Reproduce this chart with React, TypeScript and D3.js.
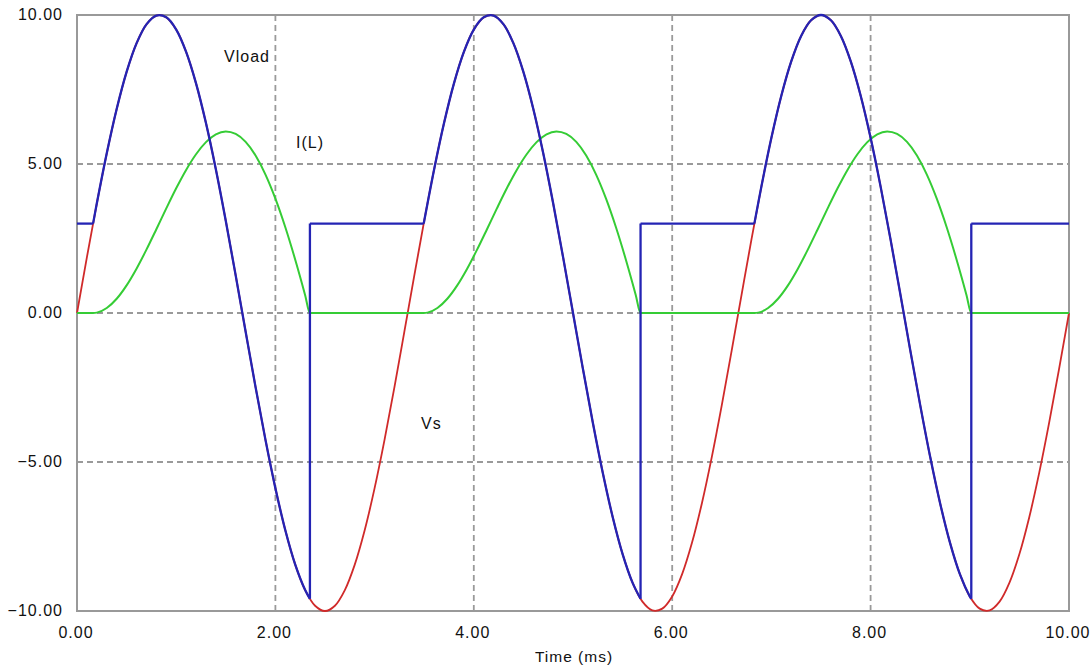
import React from "react";
import * as d3 from "d3";

// sampling grid for the source voltage (ms)
const timeMs: number[] = d3.range(101).map((i) => i / 10);

// Vs (V), read every 0.1 ms
const vsValues: number[] = [
  0, 1.874, 3.681, 5.358, 6.845, 8.09, 9.048, 9.686, 9.98, 9.921, 9.511, 8.763, 7.705, 6.374, 4.818, 3.09, 1.253,
  -0.628, -2.487, -4.258, -5.878, -7.29, -8.443, -9.298, -9.823, -10.0, -9.823, -9.298, -8.443, -7.29, -5.878,
  -4.258, -2.487, -0.628, 1.253, 3.09, 4.818, 6.374, 7.705, 8.763, 9.511, 9.921, 9.98, 9.686, 9.048, 8.09, 6.845,
  5.358, 3.681, 1.874, 0,
  -1.874, -3.681, -5.358, -6.845, -8.09, -9.048, -9.686, -9.98, -9.921, -9.511, -8.763, -7.705, -6.374, -4.818,
  -3.09, -1.253, 0.628, 2.487, 4.258, 5.878, 7.29, 8.443, 9.298, 9.823, 10.0, 9.823, 9.298, 8.443, 7.29, 5.878,
  4.258, 2.487, 0.628, -1.253, -3.09, -4.818, -6.374, -7.705, -8.763, -9.511, -9.921, -9.98, -9.686, -9.048,
  -8.09, -6.845, -5.358, -3.681, -1.874, 0,
];

// Vload: battery level and conduction intervals (ms) with Vs at turn-off
const batteryV = 3;
const conductOn: number[] = [0.162, 3.495, 6.828];
const conductOff: number[] = [2.348, 5.681, 9.015];
const vAtOff: number[] = [-9.59, -9.59, -9.59];

// I(L) pulses: [time ms, current]
const iL1: [number, number][] = [
  [0.162, 0], [0.2, 0.013], [0.3, 0.167], [0.4, 0.478], [0.5, 0.927], [0.6, 1.487], [0.7, 2.126], [0.8, 2.812],
  [0.9, 3.51], [1.0, 4.185], [1.1, 4.801], [1.2, 5.327], [1.3, 5.733], [1.4, 5.994], [1.5, 6.091], [1.6, 6.008],
  [1.7, 5.74], [1.8, 5.284], [1.9, 4.645], [2.0, 3.837], [2.1, 2.877], [2.2, 1.788], [2.3, 0.598], [2.348, 0],
];
const iL2: [number, number][] = [
  [3.495, 0], [3.533, 0.013], [3.633, 0.167], [3.733, 0.478], [3.833, 0.927], [3.933, 1.487], [4.033, 2.126],
  [4.133, 2.812], [4.233, 3.51], [4.333, 4.185], [4.433, 4.801], [4.533, 5.327], [4.633, 5.733], [4.733, 5.994],
  [4.833, 6.091], [4.933, 6.008], [5.033, 5.74], [5.133, 5.284], [5.233, 4.645], [5.333, 3.837], [5.433, 2.877],
  [5.533, 1.788], [5.633, 0.598], [5.681, 0],
];
const iL3: [number, number][] = [
  [6.828, 0], [6.867, 0.013], [6.967, 0.167], [7.067, 0.478], [7.167, 0.927], [7.267, 1.487], [7.367, 2.126],
  [7.467, 2.812], [7.567, 3.51], [7.667, 4.185], [7.767, 4.801], [7.867, 5.327], [7.967, 5.733], [8.067, 5.994],
  [8.167, 6.091], [8.267, 6.008], [8.367, 5.74], [8.467, 5.284], [8.567, 4.645], [8.667, 3.837], [8.767, 2.877],
  [8.867, 1.788], [8.967, 0.598], [9.015, 0],
];

const xTicks: number[] = [0, 2, 4, 6, 8, 10];
const yTicks: number[] = [-10, -5, 0, 5, 10];
const xGrid: number[] = [2, 4, 6, 8];
const yGrid: number[] = [-5, 0, 5];

const W = 1092;
const H = 667;
const FONT = "'Liberation Sans', Arial, sans-serif";

export default function App() {
  const x = d3.scaleLinear().domain([0, 10]).range([77, 1069]);
  const y = d3.scaleLinear().domain([-10, 10]).range([611, 15]);
  const fmt = d3.format(".2f");

  const smooth = d3
    .line<[number, number]>()
    .x((d) => x(d[0]))
    .y((d) => y(d[1]))
    .curve(d3.curveCatmullRom.alpha(0.5));
  const lin = d3
    .line<[number, number]>()
    .x((d) => x(d[0]))
    .y((d) => y(d[1]));
  const mono = d3
    .line<[number, number]>()
    .x((d) => x(d[0]))
    .y((d) => y(d[1]))
    .curve(d3.curveMonotoneX);

  const vsPts: [number, number][] = timeMs.map((t, i) => [t, vsValues[i]]);

  // Vload segments
  const blueSegs: { d: string }[] = [];
  let prev = 0;
  conductOn.forEach((on, k) => {
    const off = conductOff[k];
    blueSegs.push({ d: lin([[prev, batteryV], [on, batteryV]]) as string });
    const pts: [number, number][] = [[on, batteryV]];
    vsPts.forEach((p) => {
      if (p[0] > on + 0.001 && p[0] < off - 0.001) pts.push(p);
    });
    pts.push([off, vAtOff[k]]);
    blueSegs.push({ d: smooth(pts) as string });
    blueSegs.push({ d: lin([[off, vAtOff[k]], [off, batteryV]]) as string });
    prev = off;
  });
  blueSegs.push({ d: lin([[prev, batteryV], [10, batteryV]]) as string });

  const greenPts: [number, number][] = [[0, 0], ...iL1, ...iL2, ...iL3, [10, 0]];

  const gridStyle = { stroke: "#9a9a9a", strokeWidth: 1.8, strokeDasharray: "6,4", fill: "none" };
  const textStyle: React.CSSProperties = { fontFamily: FONT, fontSize: 16, letterSpacing: 1, fill: "#111" };

  return (
    <svg
      width={W}
      height={H}
      style={{ position: "absolute", left: 0, top: 0, background: "#fff" }}
      xmlns="http://www.w3.org/2000/svg"
    >
      <rect x={0} y={0} width={W} height={H} fill="#fff" />
      {xGrid.map((t) => (
        <line key={"gx" + t} x1={x(t)} x2={x(t)} y1={y(10)} y2={y(-10)} style={gridStyle} />
      ))}
      {yGrid.map((v) => (
        <line key={"gy" + v} x1={x(0)} x2={x(10)} y1={y(v)} y2={y(v)} style={gridStyle} />
      ))}
      <rect x={x(0)} y={y(10)} width={x(10) - x(0)} height={y(-10) - y(10)} fill="none" stroke="#999" strokeWidth={2} />

      <path d={smooth(vsPts) as string} fill="none" stroke="#d02a2a" strokeWidth={1.8} />
      <path d={mono(greenPts) as string} fill="none" stroke="#35cc35" strokeWidth={2} />
      {blueSegs.map((s, i) => (
        <path key={"b" + i} d={s.d} fill="none" stroke="#2424b4" strokeWidth={2.3} />
      ))}

      {yTicks.map((v) => (
        <text key={"yt" + v} x={63} y={y(v) + 5} textAnchor="end" style={textStyle}>
          {fmt(v)}
        </text>
      ))}
      {xTicks.map((t) => (
        <text key={"xt" + t} x={x(t) - 1} y={638} textAnchor="middle" style={textStyle}>
          {fmt(t)}
        </text>
      ))}
      <text x={574} y={662} textAnchor="middle" style={{ ...textStyle, fontSize: 15.5 }}>
        Time (ms)
      </text>

      <text x={224} y={62} style={textStyle}>Vload</text>
      <text x={296} y={148} style={textStyle}>I(L)</text>
      <text x={421} y={429} style={textStyle}>Vs</text>
    </svg>
  );
}
